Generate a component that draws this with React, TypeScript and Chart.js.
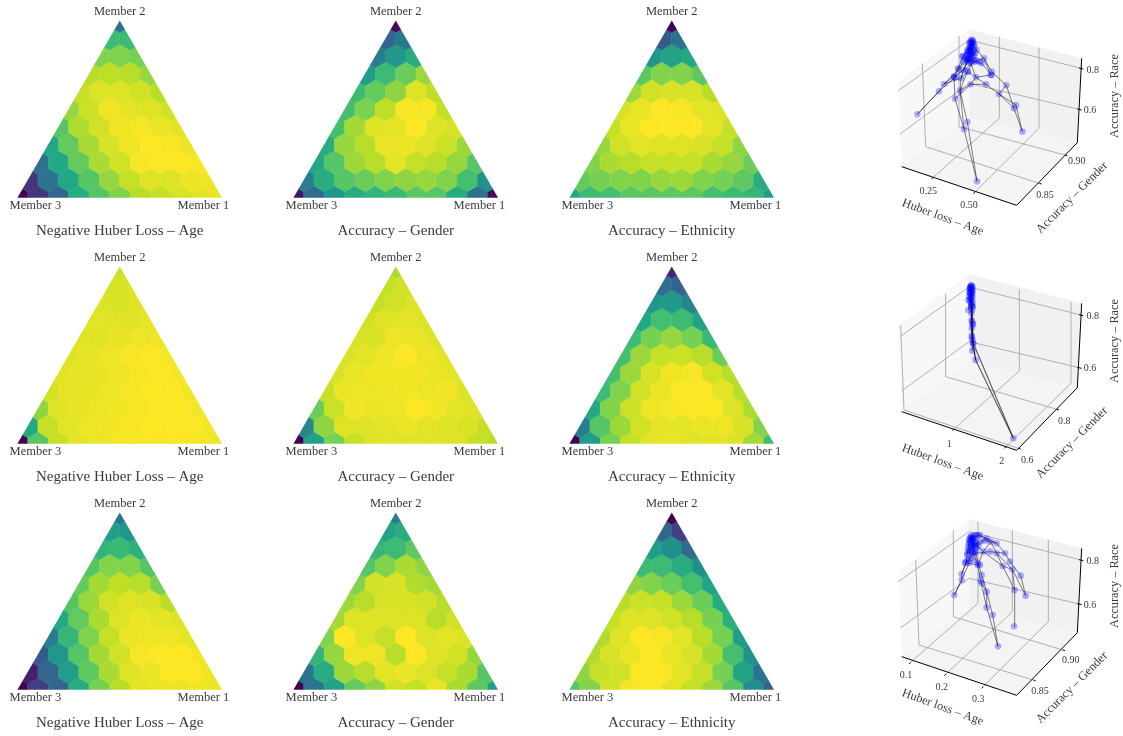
import React, { useEffect, useRef } from "react";
import { Chart, registerables, PointElement, ScatterController } from "chart.js";

Chart.register(...registerables);

// ---------- data: colour-normalised values of each ternary cell, bottom row first ----------
const huberAgeA = [
  [0, .15, .33, .62, .72, .8, .88, .9, .93, .96, .97],
  [.15, .38, .6, .72, .83, .9, .94, .95, .97, .98],
  [.37, .6, .75, .86, .92, .99, 1, 1, .99],
  [.6, .75, .86, .93, .98, 1, .99, .97],
  [.72, .87, .92, .98, .99, .97, .96],
  [.83, .91, .98, .96, .94, .92],
  [.9, .95, .95, .92, .88],
  [.88, .89, .88, .83],
  [.8, .8, .78],
  [.68, .68],
  [.37],
];
const genderA = [
  [.05, .35, .52, .62, .65, .67, .73, .72, .62, .38, .03],
  [.42, .62, .72, .76, .8, .82, .83, .8, .7, .5],
  [.6, .72, .84, .88, .96, .9, .88, .83, .72],
  [.62, .83, .88, .97, .97, .94, .91, .84],
  [.7, .85, .94, .96, 1, .95, .93],
  [.7, .79, .89, .99, .99, .9],
  [.68, .75, .82, .94, .89],
  [.55, .68, .76, .84],
  [.42, .53, .62],
  [.33, .4],
  [.02],
];
const ethnicityA = [
  [.6, .68, .7, .73, .73, .74, .74, .7, .68, .66, .55],
  [.75, .78, .8, .8, .83, .84, .8, .78, .74, .62],
  [.8, .86, .88, .9, .9, .9, .86, .83, .76],
  [.83, .92, .96, .94, .94, .93, .9, .82],
  [.9, .97, 1, 1, 1, .96, .9],
  [.93, .97, 1, .99, .96, .94],
  [.84, .92, .93, .93, .88],
  [.73, .8, .8, .74],
  [.52, .58, .6],
  [.28, .38],
  [0],
];
const huberAgeB = [
  [0, .72, .9, .96, .975, .99, .99, .99, .99, .99, .975],
  [.6, .9, .96, .975, .985, .99, 1, 1, 1, .985],
  [.82, .95, .965, .975, .985, .99, 1, 1, .985],
  [.92, .965, .965, .975, .99, 1, 1, .985],
  [.955, .965, .965, .98, .99, 1, .985],
  [.955, .965, .975, .99, 1, .985],
  [.945, .955, .965, .975, .975],
  [.945, .945, .955, .965],
  [.935, .935, .945],
  [.925, .935],
  [.915],
];
const genderB = [
  [0, .57, .78, .9, .94, .95, .95, .95, .94, .9, .88],
  [.45, .82, .94, .95, .96, .97, .96, .94, .93, .9],
  [.76, .91, .985, .97, .975, 1, .985, .96, .94],
  [.9, .97, .975, .975, .985, .975, .985, .95],
  [.93, .97, .985, .985, .985, .97, .96],
  [.93, .96, .975, 1, .975, .96],
  [.93, .93, .975, .97, .95],
  [.92, .94, .96, .95],
  [.9, .92, .95],
  [.9, .92],
  [.86],
];
const ethnicityB = [
  [0, .55, .78, .9, .96, .97, .94, .96, .94, .85, .68],
  [.42, .72, .84, .92, .96, .96, .97, .98, .93, .8],
  [.6, .8, .91, .98, .99, 1, 1, .95, .86],
  [.68, .8, .92, .97, 1, 1, .96, .88],
  [.7, .84, .93, .98, .99, .92, .88],
  [.7, .84, .9, .91, .88, .76],
  [.68, .78, .83, .78, .67],
  [.6, .7, .68, .58],
  [.52, .53, .45],
  [.36, .32],
  [.1],
];
const huberAgeC = [
  [0, .18, .32, .62, .78, .88, .96, .97, .97, .98, .97],
  [.08, .33, .55, .74, .86, .94, .97, 1, 1, .98],
  [.28, .52, .72, .85, .92, .99, 1, 1, .98],
  [.42, .66, .8, .9, .97, .98, .98, .96],
  [.6, .75, .86, .95, .97, .96, .94],
  [.72, .84, .92, .94, .93, .88],
  [.75, .85, .89, .88, .78],
  [.72, .8, .8, .72],
  [.65, .67, .64],
  [.56, .52],
  [.38],
];
const genderC = [
  [0, .38, .58, .75, .82, .92, .9, .97, .86, .74, .55],
  [.38, .62, .84, .88, .96, .97, .95, .9, .86, .72],
  [.65, .83, .98, .98, .88, 1, .94, .92, .83],
  [.8, 1, .94, .9, 1, .95, .96, .95],
  [.85, .95, .94, .95, .94, .88, .92],
  [.84, .88, .93, .93, .92, .88],
  [.8, .92, .93, .87, .85],
  [.72, .8, .86, .82],
  [.66, .68, .74],
  [.58, .62],
  [.42],
];
const ethnicityC = [
  [.72, .8, .92, .99, 1, .96, .9, .84, .72, .48, .3],
  [.82, .9, .92, 1, 1, .96, .9, .78, .58, .38],
  [.87, .93, .97, 1, .97, .93, .85, .7, .5],
  [.87, .94, 1, .99, .96, .88, .78, .55],
  [.9, .94, .95, .92, .88, .78, .63],
  [.88, .91, .9, .84, .76, .62],
  [.82, .8, .76, .7, .58],
  [.68, .68, .62, .5],
  [.55, .5, .35],
  [.33, .18],
  [0],
];

const memberLabels = ["Member 1", "Member 2", "Member 3"];
const metricTitles = ["Negative Huber Loss – Age", "Accuracy – Gender", "Accuracy – Ethnicity"];
const ternaryGrid = [
  [huberAgeA, genderA, ethnicityA],
  [huberAgeB, genderB, ethnicityB],
  [huberAgeC, genderC, ethnicityC],
];

// viridis colour map
const viridis = ["#440154", "#482475", "#414487", "#355f8d", "#2a788e", "#21918c", "#22a884", "#44bf70", "#7ad151", "#bddf26", "#fde725"];

// ---------- projected trade-off surfaces (view-plane units) ----------
type P = [number, number];
const surfaceA: P[][] = [
  [[112, 283], [177, 214], [192, 192], [222, 170], [235, 148], [250, 125], [262, 105], [270, 85], [275, 62]],
  [[112, 283], [177, 214], [225, 172], [250, 150], [268, 118], [272, 90], [278, 66]],
  [[291, 484], [252, 327], [225, 236], [222, 172], [235, 145], [248, 110], [262, 90], [272, 72]],
  [[291, 484], [262, 306], [240, 212], [243, 175], [262, 120], [270, 92], [275, 70]],
  [[427, 335], [402, 265], [379, 196], [335, 155], [312, 115], [290, 90], [277, 70]],
  [[427, 335], [408, 255], [357, 222], [318, 193], [288, 172], [272, 130], [275, 100], [275, 70]],
  [[225, 236], [272, 193], [288, 172], [332, 165], [312, 115]],
  [[240, 212], [272, 193], [318, 193]],
  [[192, 192], [243, 175], [264, 155], [288, 172]],
  [[357, 222], [379, 196]],
  [[222, 170], [250, 150], [264, 120], [285, 125], [305, 130], [335, 165]],
  [[402, 265], [357, 222]],
  [[252, 327], [240, 212], [262, 155], [282, 120]],
  [[192, 192], [235, 148], [262, 120], [285, 100], [290, 90]],
  [[243, 175], [250, 150], [285, 125], [312, 115]],
];
const clusterA: P[] = [
  [268, 70], [282, 72], [272, 80], [280, 88], [265, 95], [285, 100], [258, 108], [275, 112], [248, 108], [290, 122], [262, 118], [300, 125],
  [274, 60], [279, 62], [270, 66], [276, 76], [283, 80], [267, 84], [274, 88], [271, 95], [278, 96], [262, 98], [268, 104], [276, 104], [282, 108], [270, 112], [255, 116], [264, 126], [272, 124],
];

const surfaceB: P[][] = [
  [[400, 520], [280, 235], [276, 170], [272, 100], [274, 62]],
  [[400, 520], [287, 285], [277, 225], [278, 178], [275, 120], [272, 66]],
  [[277, 257], [275, 212], [275, 165], [277, 125], [273, 80]],
  [[265, 135], [270, 105], [272, 70]],
  [[287, 285], [279, 235], [275, 190], [274, 120]],
];
const clusterB: P[] = [
  [273, 62], [275, 70], [270, 76], [276, 82], [272, 88], [268, 95], [277, 97], [265, 105], [278, 125], [265, 135], [275, 165], [279, 178], [275, 212], [277, 225], [277, 257], [287, 285],
  [271, 66], [277, 64], [274, 74], [269, 70], [278, 74], [270, 84], [275, 90], [277, 86], [272, 96], [268, 82], [275, 105], [272, 112], [278, 112], [276, 135], [274, 145], [276, 218],
];

const surfaceC: P[][] = [
  [[223, 255], [245, 210], [245, 192], [258, 158], [262, 130], [268, 95], [272, 80]],
  [[223, 255], [245, 210], [268, 158], [272, 120], [280, 85]],
  [[354, 409], [338, 315], [320, 245], [305, 195], [295, 160], [285, 125], [278, 85]],
  [[354, 409], [320, 293], [302, 212], [293, 165], [280, 130], [275, 85]],
  [[402, 349], [404, 240], [397, 178], [368, 168], [350, 130], [332, 95], [300, 75]],
  [[437, 257], [422, 197], [390, 155], [375, 130], [350, 100], [320, 85], [290, 75]],
  [[437, 257], [397, 178], [350, 130]],
  [[404, 240], [368, 168], [310, 125], [285, 100]],
  [[258, 158], [293, 165], [310, 125], [332, 95]],
  [[245, 192], [262, 150], [285, 130], [330, 125], [375, 130]],
  [[320, 293], [320, 245], [305, 220]],
  [[262, 130], [275, 110], [300, 95], [320, 85]],
  [[272, 145], [285, 110], [315, 92], [350, 100]],
];
const clusterC: P[] = [
  [275, 78], [283, 76], [295, 76], [268, 90], [272, 98], [278, 105], [265, 112], [288, 96], [300, 95], [315, 92], [262, 135], [272, 145], [282, 150], [255, 158], [300, 165], [305, 220], [265, 120], [290, 115],
  [270, 84], [277, 88], [284, 84], [274, 92], [281, 96], [266, 102], [272, 108], [285, 105], [268, 125], [276, 125], [295, 108],
];

// ---------- axis ticks (labels as shown, tick position on the axis, label centre, grid path) ----------
type Tick = { label: string; at: P; text: P; grid: P[] };
const xTicksA: Tick[] = [
  { label: "0.25", at: [160, 472], text: [145, 513], grid: [[160, 472], [358, 295], [358, 50]] },
  { label: "0.50", at: [285, 516], text: [267, 555], grid: [[285, 516], [477, 325], [477, 82]] },
];
const yTicksA: Tick[] = [
  { label: "0.85", at: [478, 490], text: [495, 525], grid: [[478, 490], [137, 380], [127, 130]] },
  { label: "0.90", at: [555, 405], text: [590, 425], grid: [[555, 405], [237, 320], [237, 48]] },
];
const zTicksA: Tick[] = [
  { label: "0.8", at: [603, 145], text: [638, 150], grid: [[603, 145], [267, 60], [55, 212]] },
  { label: "0.6", at: [598, 268], text: [630, 272], grid: [[598, 268], [267, 190], [60, 342]] },
];
const xTicksB: Tick[] = [
  { label: "1", at: [222, 492], text: [208, 537], grid: [[222, 492], [418, 318], [418, 73]] },
  { label: "2", at: [378, 545], text: [365, 590], grid: [[378, 545], [573, 355], [573, 110]] },
];
const yTicksB: Tick[] = [
  { label: "0.6", at: [415, 550], text: [442, 586], grid: [[415, 550], [72, 435], [62, 180]] },
  { label: "0.8", at: [530, 433], text: [553, 468], grid: [[530, 433], [197, 335], [197, 85]] },
];
const zTicksB: Tick[] = [
  { label: "0.8", at: [603, 150], text: [638, 153], grid: [[603, 150], [267, 66], [60, 215]] },
  { label: "0.6", at: [598, 308], text: [630, 311], grid: [[598, 308], [267, 230], [65, 378]] },
];
const xTicksC: Tick[] = [
  { label: "0.1", at: [92, 457], text: [78, 495], grid: [[92, 457], [294, 280], [294, 35]] },
  { label: "0.2", at: [198, 492], text: [185, 531], grid: [[198, 492], [397, 305], [397, 60]] },
  { label: "0.3", at: [310, 530], text: [295, 567], grid: [[310, 530], [505, 335], [505, 90]] },
];
const yTicksC: Tick[] = [
  { label: "0.85", at: [460, 510], text: [480, 545], grid: [[460, 510], [117, 405], [107, 150]] },
  { label: "0.90", at: [548, 420], text: [572, 450], grid: [[548, 420], [220, 320], [220, 60]] },
];
const zTicksC: Tick[] = [
  { label: "0.8", at: [603, 150], text: [638, 153], grid: [[603, 150], [267, 65], [55, 215]] },
  { label: "0.6", at: [598, 282], text: [630, 285], grid: [[598, 282], [267, 205], [62, 353]] },
];
const axisTitles = ["Huber loss – Age", "Accuracy – Gender", "Accuracy – Race"];

// projected box of the 3D axes
const boxLeft: P = [65, 440];
const boxFront: P = [410, 556];
const boxRight: P = [592, 368];
const boxBack: P = [267, 295];
const boxTopLeft: P = [55, 183];
const boxTopBack: P = [267, 28];
const boxTopRight: P = [605, 115];

// ---------- layout ----------
const SERIF = '"Liberation Serif", serif';
const TEXT = "#3a3a3a";
const SIDE = 204.6;
const triLeft = [17, 293.3, 569.6];
const triBase = [198, 444, 690];
const Y_TOP = 0.966;
const T_W = 246;
const T_H = 246;
const H3D = [20, 265, 510];

function viridisColor(value: number): string {
  const v = value > 0.7 && value < 0.95 ? value + 0.012 : value;
  const t = Math.max(0, Math.min(1, v)) * (viridis.length - 1);
  const i = Math.min(viridis.length - 2, Math.floor(t));
  const f = t - i;
  const hex = (s: string, k: number) => parseInt(s.slice(1 + 2 * k, 3 + 2 * k), 16);
  const c = [0, 1, 2].map((k) => Math.round(hex(viridis[i], k) * (1 - f) + hex(viridis[i + 1], k) * f));
  return `rgb(${c[0]},${c[1]},${c[2]})`;
}

class HexCell extends PointElement {
  static id = "hexcell";
  draw(ctx: CanvasRenderingContext2D) {
    const o: any = this.options;
    const { x, y } = this as any;
    ctx.beginPath();
    for (let k = 0; k < 6; k++) {
      const a = Math.PI / 6 + (k * Math.PI) / 3;
      const px = x + o.radius * Math.cos(a);
      const py = y + o.radius * Math.sin(a);
      if (k === 0) ctx.moveTo(px, py);
      else ctx.lineTo(px, py);
    }
    ctx.closePath();
    ctx.fillStyle = o.backgroundColor;
    ctx.strokeStyle = o.backgroundColor;
    ctx.lineWidth = 0.5;
    ctx.fill();
    ctx.stroke();
  }
}
class HexController extends ScatterController {
  static id = "hexmap";
  static defaults = { ...(ScatterController as any).defaults, dataElementType: "hexcell" };
}
Chart.register(HexCell as any, HexController as any);

const S3 = Math.sqrt(3) / 2;

function ternaryConfig(rows: number[][], title: string): any {
  const data: { x: number; y: number }[] = [];
  const colors: string[] = [];
  rows.forEach((row, j) =>
    row.forEach((v, i) => {
      data.push({ x: (i + j / 2) / 10, y: (j / 10) * S3 });
      colors.push(viridisColor(v));
    })
  );
  const plugin = {
    id: "ternaryFrame",
    beforeDatasetsDraw(c: any) {
      const { x, y } = c.scales;
      const ctx = c.ctx;
      ctx.save();
      ctx.beginPath();
      ctx.moveTo(x.getPixelForValue(0), y.getPixelForValue(0));
      ctx.lineTo(x.getPixelForValue(1), y.getPixelForValue(0));
      ctx.lineTo(x.getPixelForValue(0.5), y.getPixelForValue(S3));
      ctx.closePath();
      ctx.clip();
    },
    afterDatasetsDraw(c: any) {
      c.ctx.restore();
    },
    afterDraw(c: any) {
      const { x, y } = c.scales;
      const ctx = c.ctx;
      ctx.save();
      ctx.fillStyle = TEXT;
      ctx.textAlign = "center";
      ctx.textBaseline = "alphabetic";
      ctx.font = `12.5px ${SERIF}`;
      ctx.fillText(memberLabels[1], x.getPixelForValue(0.5), y.getPixelForValue(S3 + 0.028));
      ctx.fillText(memberLabels[2], x.getPixelForValue(0.088), y.getPixelForValue(-0.054));
      ctx.fillText(memberLabels[0], x.getPixelForValue(0.909), y.getPixelForValue(-0.054));
      ctx.font = `15px ${SERIF}`;
      ctx.fillText(title, x.getPixelForValue(0.5), y.getPixelForValue(-0.183));
      ctx.restore();
    },
  };
  return {
    type: "hexmap",
    data: {
      datasets: [
        {
          data,
          backgroundColor: colors,
          radius: SIDE / 10 / Math.sqrt(3),
          borderWidth: 0,
        },
      ],
    },
    options: baseOptions(-0.1, -0.1 + T_W / SIDE, Y_TOP - T_H / SIDE, Y_TOP, false),
    plugins: [plugin],
  };
}

function baseOptions(xMin: number, xMax: number, yMin: number, yMax: number, reverse: boolean): any {
  return {
    animation: false,
    responsive: false,
    events: [],
    layout: { padding: 0, autoPadding: false },
    plugins: { legend: { display: false }, tooltip: { enabled: false }, title: { display: false }, colors: { enabled: false } },
    scales: {
      x: { type: "linear", display: false, min: xMin, max: xMax },
      y: { type: "linear", display: false, min: yMin, max: yMax, reverse },
    },
  };
}

const toXY = (p: P[]) => p.map(([x, y]) => ({ x, y }));
const line = (p: P[], color: string, width: number) => ({
  type: "scatter",
  showLine: true,
  data: toXY(p),
  borderColor: color,
  borderWidth: width,
  pointRadius: 0,
  fill: false,
  tension: 0,
});
const pane = (p: P[], color: string) => ({
  type: "scatter",
  showLine: true,
  data: toXY(p),
  borderWidth: 0,
  borderColor: "transparent",
  backgroundColor: color,
  pointRadius: 0,
  fill: "shape",
});

function surfaceConfig(surface: P[][], cluster: P[], xT: Tick[], yT: Tick[], zT: Tick[], lineWidth: number): any {
  const ds: any[] = [
    pane([boxTopLeft, boxTopBack, boxBack, boxLeft, boxTopLeft], "#f8f8f8"),
    pane([boxTopBack, boxTopRight, boxRight, boxBack, boxTopBack], "#f1f1f1"),
    pane([boxLeft, boxFront, boxRight, boxBack, boxLeft], "#f4f4f4"),
  ];
  [...xT, ...yT, ...zT].forEach((t) => ds.push(line(t.grid, "#a8a8a8", 0.9)));
  ds.push(line([boxLeft, boxFront], "#000", 1));
  ds.push(line([boxFront, boxRight], "#000", 1));
  ds.push(line([boxRight, boxTopRight], "#000", 1));
  xT.forEach((t) => ds.push(line([t.at, [t.at[0] - 5, t.at[1] + 5]], "#000", 1)));
  yT.forEach((t) => ds.push(line([t.at, [t.at[0] + 7, t.at[1] + 2]], "#000", 1)));
  zT.forEach((t) => ds.push(line([[t.at[0] - 6, t.at[1] - 1], [t.at[0] + 7, t.at[1] + 2]], "#000", 1)));
  surface.forEach((s) => ds.push(line(s, "rgba(10,10,30,0.66)", lineWidth)));
  const seen = new Set<string>();
  const nodes: P[] = [...surface.flat(), ...cluster].filter((p) => {
    const k = p.join(",");
    if (seen.has(k)) return false;
    seen.add(k);
    return true;
  });
  ds.push({
    type: "scatter",
    data: toXY(nodes),
    pointBackgroundColor: "rgba(0,0,255,0.3)",
    pointBorderWidth: 0,
    pointRadius: 3.3,
  });
  ds.forEach((d, i) => (d.order = ds.length - i));

  const plugin = {
    id: "axisText",
    afterDraw(c: any) {
      const { x, y } = c.scales;
      const ctx = c.ctx;
      ctx.save();
      ctx.fillStyle = TEXT;
      ctx.textAlign = "center";
      ctx.textBaseline = "middle";
      ctx.font = `10px ${SERIF}`;
      [...xT, ...yT, ...zT].forEach((t) => ctx.fillText(t.label, x.getPixelForValue(t.text[0]), y.getPixelForValue(t.text[1])));
      ctx.font = `12.3px ${SERIF}`;
      const rotated = (s: string, at: P, deg: number) => {
        ctx.save();
        ctx.translate(x.getPixelForValue(at[0]), y.getPixelForValue(at[1]));
        ctx.rotate((deg * Math.PI) / 180);
        ctx.fillText(s, 0, 0);
        ctx.restore();
      };
      rotated(axisTitles[0], [188, 592], 20);
      rotated(axisTitles[1], [576, 533], -45);
      rotated(axisTitles[2], [703, 228], -90);
      ctx.restore();
    },
  };
  return {
    type: "scatter",
    data: { datasets: ds },
    options: baseOptions(0, 729, 0, 678, true),
    plugins: [plugin],
  };
}

function Panel({ left, top, width, height, config }: { left: number; top: number; width: number; height: number; config: any }) {
  const ref = useRef<HTMLCanvasElement>(null);
  useEffect(() => {
    const chart = new Chart(ref.current as HTMLCanvasElement, config());
    return () => chart.destroy();
  }, []);
  return <canvas ref={ref} width={width} height={height} style={{ position: "absolute", left, top, width, height, display: "block", filter: "blur(0.35px)" }} />;
}

export default function App() {
  const surfaces: [P[][], P[], Tick[], Tick[], Tick[], number][] = [
    [surfaceA, clusterA, xTicksA, yTicksA, zTicksA, 0.8],
    [surfaceB, clusterB, xTicksB, yTicksB, zTicksB, 1.1],
    [surfaceC, clusterC, xTicksC, yTicksC, zTicksC, 0.8],
  ];
  return (
    <div style={{ position: "absolute", left: 0, top: 0, width: 1123, height: 736, overflow: "hidden", background: "#fff" }}>
      {ternaryGrid.map((row, r) =>
        row.map((values, c) => (
          <Panel
            key={`t${r}${c}`}
            left={triLeft[c] - 0.1 * SIDE}
            top={triBase[r] - Y_TOP * SIDE}
            width={T_W}
            height={T_H}
            config={() => ternaryConfig(values, metricTitles[c])}
          />
        ))
      )}
      {surfaces.map((s, r) => (
        <Panel key={`s${r}`} left={880} top={H3D[r]} width={243} height={226} config={() => surfaceConfig(s[0], s[1], s[2], s[3], s[4], s[5])} />
      ))}
    </div>
  );
}
